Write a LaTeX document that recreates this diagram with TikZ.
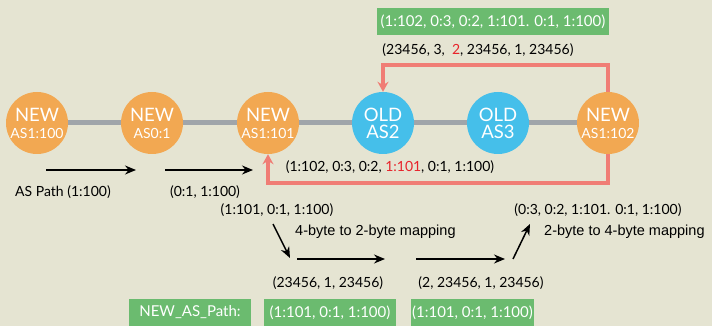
\documentclass[tikz,border=0pt]{standalone}
\usepackage{fontspec}
\setmainfont{Lato}
\newfontfamily\arialfont{Liberation Sans}
\usetikzlibrary{arrows.meta}

\definecolor{bgcol}{HTML}{E5E4D2}
\definecolor{newcol}{HTML}{F2A852}
\definecolor{oldcol}{HTML}{45BFEA}
\definecolor{boxcol}{HTML}{6BBB6F}
\definecolor{loopcol}{HTML}{F07D75}
\definecolor{redtxt}{HTML}{E8232A}
\definecolor{linkcol}{HTML}{A0A5AA}

% smaller second line inside a router
\newcommand{\asid}[1]{{\fontsize{14}{16}\selectfont #1}}

\tikzset{
    router/.style={circle, minimum size=62pt, inner sep=0pt, text=white, align=center,
        font=\fontsize{18.5}{20}\selectfont},
    newas/.style={router, fill=newcol},
    oldas/.style={router, fill=oldcol},
    pathtxt/.style={inner sep=0pt, font=\fontsize{14}{16}\selectfont},
    maptxt/.style={inner sep=0pt, font=\arialfont\fontsize{14.5}{16}\selectfont},
    greenbox/.style={fill=boxcol, text=white, inner sep=0pt, minimum height=27pt,
        font=\fontsize{15}{16}\selectfont},
    link/.style={linkcol, line width=5pt},
    hop/.style={-{Stealth[length=11pt, width=9pt]}, line width=1.5pt},
    loop/.style={loopcol, line width=3.5pt, -{Stealth[length=10pt, width=11pt]}},
}

\begin{document}
\begin{tikzpicture}[x=1pt, y=-1pt]
    \fill[bgcol] (0,0) rectangle (712,326);
    \useasboundingbox (0,0) rectangle (712,326);

    % routers
    \node[newas] (n100) at (37,123) {NEW\\[-3pt]\asid{AS1:100}};
    \node[newas] (n01) at (152,123) {NEW\\[-3pt]\asid{AS0:1}};
    \node[newas] (n101) at (268,123) {NEW\\[-3pt]\asid{AS1:101}};
    \node[oldas] (as2) at (383,123) {OLD\\[-3pt]AS2};
    \node[oldas] (as3) at (498,123) {OLD\\[-3pt]AS3};
    \node[newas] (n102) at (608,123) {NEW\\[-3pt]\asid{AS1:102}};

    \draw[link] (n100) -- (n01);
    \draw[link] (n01) -- (n101);
    \draw[link] (n101) -- (as2);
    \draw[link] (as2) -- (as3);
    \draw[link] (as3) -- (n102);

    % loops back from AS1:102
    \draw[loop] (n102.north) -- ++(0,-27) -| (as2.north);
    \draw[loop] (n102.south) -- ++(0,29) -| (n101.south);

    \node[greenbox, minimum width=232pt] (top) at (493,21.5) {(1:102, 0:3, 0:2, 1:101. 0:1, 1:100)};
    \node[pathtxt] (oldpath) at (478,50) {(23456, 3,\ \ \textcolor{redtxt}{2}, 23456, 1, 23456)};
    \node[pathtxt] (newpath) at (390,167) {(1:102, 0:3, 0:2, \textcolor{redtxt}{1:101}, 0:1, 1:100)};

    % path growing along the new speakers
    \node[pathtxt] (p1) at (63,192) {AS Path (1:100)};
    \node[pathtxt] (p2) at (205,192) {(0:1, 1:100)};
    \node[pathtxt] (p3) at (277,210) {(1:101, 0:1, 1:100)};
    \node[pathtxt] (p4) at (328,283) {(23456, 1, 23456)};
    \node[pathtxt] (p5) at (481,283) {(2, 23456, 1, 23456)};
    \node[pathtxt] (p6) at (598,210) {(0:3, 0:2, 1:101. 0:1, 1:100)};

    \node[maptxt, anchor=west] (m42) at (295,232) {4-byte to 2-byte mapping};
    \node[maptxt, anchor=west] (m24) at (544,232) {2-byte to 4-byte mapping};

    \coordinate (s1) at (46,170);  \coordinate (e1) at (136,170);
    \coordinate (s2) at (165,170); \coordinate (e2) at (253,170);
    \coordinate (s3) at (273,224); \coordinate (e3) at (290,258);
    \coordinate (s4) at (297,259); \coordinate (e4) at (385,259);
    \coordinate (s5) at (416,259); \coordinate (e5) at (505,259);
    \coordinate (s6) at (513,259); \coordinate (e6) at (530,224);
    \draw[hop] (s1) -- (e1);
    \draw[hop] (s2) -- (e2);
    \draw[hop] (s3) -- (e3);
    \draw[hop] (s4) -- (e4);
    \draw[hop] (s5) -- (e5);
    \draw[hop] (s6) -- (e6);

    % what ends up in NEW_AS_PATH
    \node[greenbox, minimum width=122pt] (lbl) at (190,312.5) {NEW\_AS\_Path:};
    \node[greenbox, minimum width=132pt] (b1) at (330,312.5) {(1:101, 0:1, 1:100)};
    \node[greenbox, minimum width=123pt] (b2) at (472.5,312.5) {(1:101, 0:1, 1:100)};
\end{tikzpicture}
\end{document}
